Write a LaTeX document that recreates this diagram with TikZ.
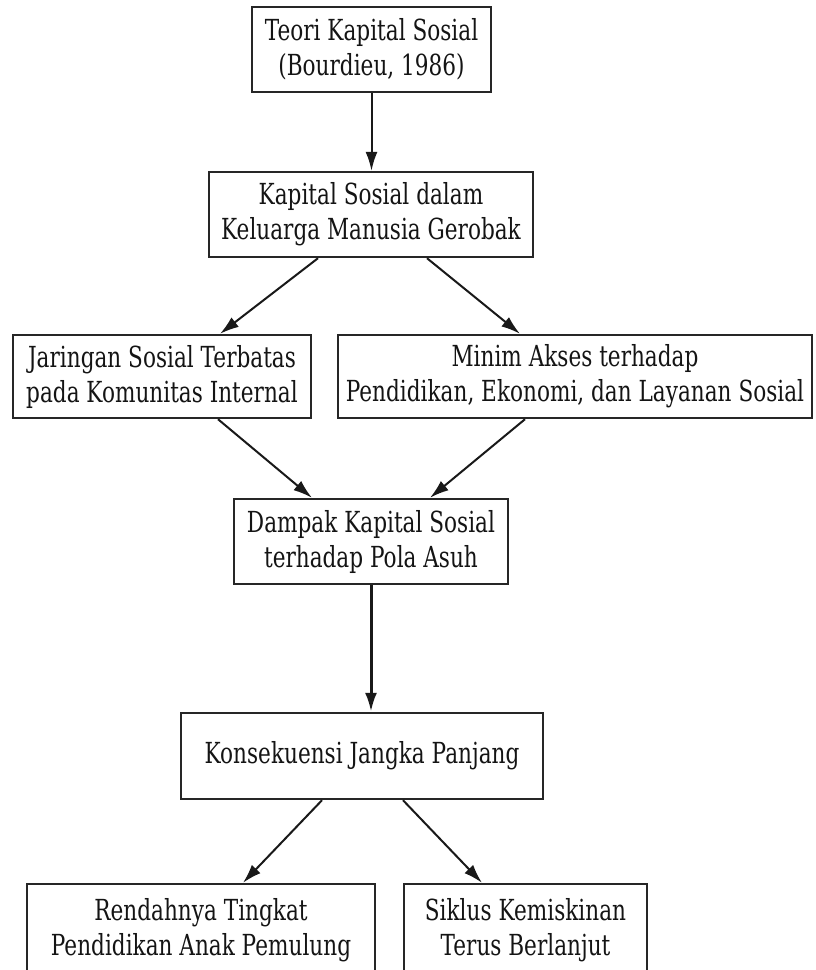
\documentclass[tikz,border=0pt]{standalone}
\usepackage{fontspec}
\setmainfont[FakeStretch=0.745]{DejaVu Serif}
\usetikzlibrary{arrows.meta,calc}
\begin{document}
\begin{tikzpicture}[x=1pt,y=-1pt,
  box/.style={draw=black!85,line width=2.4pt,rectangle,align=center,inner sep=0pt,
    font=\fontsize{29}{35}\selectfont,text=black!92},
  arr/.style={draw=black!90,line width=2pt,-{Latex[length=19pt,width=12pt]}}]
\useasboundingbox (0,0) rectangle (815,970);
\clip (0,0) rectangle (815,970);
\node[box,minimum width=239pt,minimum height=85pt] (b1) at (371.5,49.5) {Teori Kapital Sosial\\(Bourdieu, 1986)};
\node[box,minimum width=324pt,minimum height=85pt] (b2) at (371,214.5) {Kapital Sosial dalam\\Keluarga Manusia Gerobak};
\node[box,minimum width=298pt,minimum height=83pt] (b3) at (162,376.5) {Jaringan Sosial Terbatas\\pada Komunitas Internal};
\node[box,minimum width=474pt,minimum height=83pt] (b4) at (575,376.5) {Minim Akses terhadap\\Pendidikan, Ekonomi, dan Layanan Sosial};
\node[box,minimum width=274pt,minimum height=85pt] (b5) at (371,541.5) {Dampak Kapital Sosial\\terhadap Pola Asuh};
\node[box,minimum width=362pt,minimum height=86pt] (b6) at (362,756) {Konsekuensi Jangka Panjang};
\node[box,minimum width=348pt,minimum height=92pt] (b7) at (201,930) {Rendahnya Tingkat\\Pendidikan Anak Pemulung};
\node[box,minimum width=243pt,minimum height=92pt] (b8) at (525.5,930) {Siklus Kemiskinan\\Terus Berlanjut};
\draw[arr] (b1.south) -- (b1.south |- b2.north);
\draw[arr] ([xshift=-53pt]b2.south) -- ([xshift=58pt]b3.north);
\draw[arr] ([xshift=56pt]b2.south) -- ([xshift=-55pt]b4.north);
\draw[arr] ([xshift=56pt]b3.south) -- ([xshift=-59pt]b5.north);
\draw[arr] ([xshift=-50pt]b4.south) -- ([xshift=59pt]b5.north);
\draw[arr,line width=3pt] (b5.south) -- (b5.south |- b6.north);
\draw[arr] ([xshift=-40pt]b6.south) -- ([xshift=42pt]b7.north);
\draw[arr] ([xshift=41pt]b6.south) -- ([xshift=-43.5pt]b8.north);
\end{tikzpicture}
\end{document}
